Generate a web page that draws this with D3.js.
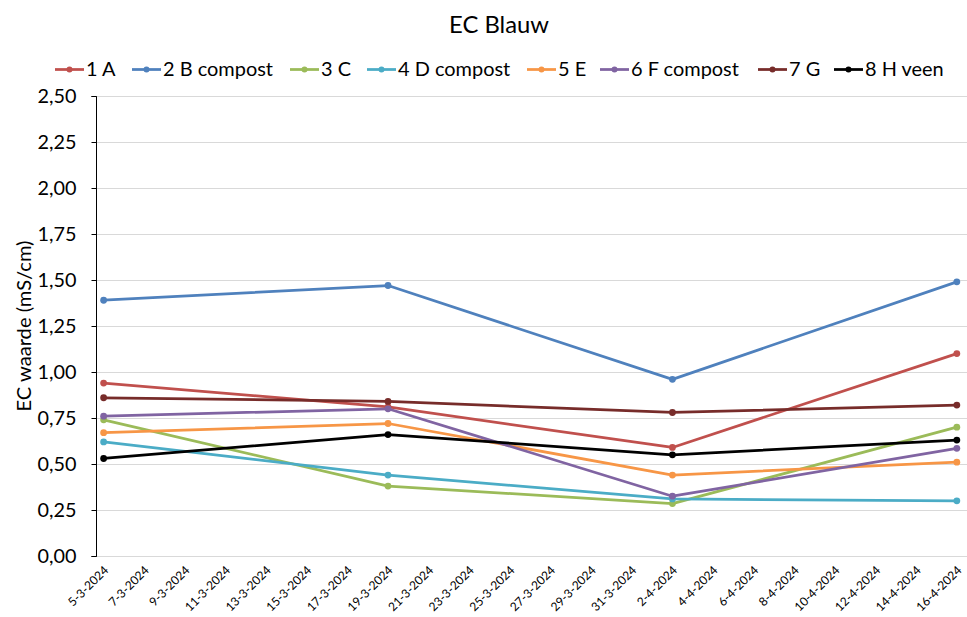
<!DOCTYPE html>
<html>
<head>
<meta charset="utf-8">
<script src="https://cdn.jsdelivr.net/npm/d3@7"></script>
<style>
  html, body { margin: 0; padding: 0; background: #fff; }
  svg { display: block; font-family: Lato, "Open Sans", sans-serif; }
</style>
</head>
<body>
<svg id="chart" width="967" height="617"></svg>
<script>
// Measurement dates (d-m-yyyy)
const dates = ["5-3-2024", "19-3-2024", "2-4-2024", "16-4-2024"];

// Series names and EC values (mS/cm)
const seriesNames = ["1 A", "2 B compost", "3 C", "4 D compost", "5 E", "6 F compost", "7 G", "8 H veen"];
const s1A = [0.94, 0.81, 0.59, 1.10];
const s2B = [1.39, 1.47, 0.96, 1.49];
const s3C = [0.74, 0.38, 0.285, 0.70];
const s4D = [0.62, 0.44, 0.31, 0.30];
const s5E = [0.67, 0.72, 0.44, 0.51];
const s6F = [0.76, 0.80, 0.325, 0.585];
const s7G = [0.86, 0.84, 0.78, 0.82];
const s8H = [0.53, 0.66, 0.55, 0.63];
const seriesColors = ["#C0504D", "#4F81BD", "#9BBB59", "#4BACC6", "#F79646", "#8064A2", "#772C2A", "#000000"];

// Axis ticks
const yTicks = [0, 0.25, 0.5, 0.75, 1.0, 1.25, 1.5, 1.75, 2.0, 2.25, 2.5];
const xTickStart = "5-3-2024";
const xTickEnd = "16-4-2024";
const xTickStepDays = 2;

const parseDate = d3.timeParse("%-d-%-m-%Y");
const fmtDate = d3.timeFormat("%-d-%-m-%Y");
const fmtY = v => d3.format(".2f")(v).replace(".", ",");

const allSeries = [s1A, s2B, s3C, s4D, s5E, s6F, s7G, s8H].map((vals, i) => ({
  name: seriesNames[i],
  color: seriesColors[i],
  points: vals.map((v, j) => ({ date: parseDate(dates[j]), value: v }))
}));

const svg = d3.select("#chart");

// Pick a font size so that a sample string takes up the wanted width
function fitSize(sample, width) {
  const t = svg.append("text").attr("font-size", 20).text(sample);
  const len = t.node().getComputedTextLength();
  t.remove();
  return 20 * width / len;
}
const titleSize = fitSize("EC Blauw", 100);
const legendSize = fitSize("2 B compost", 110);
const yTickSize = fitSize("1,75", 39);
const yTitleSize = fitSize("EC waarde (mS/cm)", 171);
const xTickSize = fitSize("5-3-2024", 51);

const plot = { left: 96, right: 967, top: 96, bottom: 556 };
const firstDay = parseDate(xTickStart);
const lastDay = parseDate(xTickEnd);

const x = d3.scaleTime()
  .domain([d3.timeHour.offset(firstDay, -9), d3.timeHour.offset(lastDay, 12)])
  .range([plot.left, plot.right]);
const y = d3.scaleLinear().domain([0, 2.5]).range([plot.bottom, plot.top]);

// Title
svg.append("text")
  .attr("x", 499).attr("y", 33)
  .attr("text-anchor", "middle")
  .attr("font-size", titleSize)
  .attr("fill", "#000")
  .text("EC Blauw");

// Horizontal gridlines
svg.append("g").selectAll("line").data(yTicks).join("line")
  .attr("x1", plot.left).attr("x2", plot.right)
  .attr("y1", d => Math.round(y(d)) + 0.5).attr("y2", d => Math.round(y(d)) + 0.5)
  .attr("stroke", "#D9D9D9").attr("stroke-width", 1.2);

// Y axis
const yAxis = d3.axisLeft(y).tickValues(yTicks).tickFormat(fmtY).tickSize(5).tickPadding(15);
const gy = svg.append("g").attr("transform", `translate(${plot.left + 0.5},0)`).call(yAxis);
gy.select(".domain").attr("stroke", "#000").attr("d", `M-5,${plot.top + 0.5}H0V${plot.bottom + 0.5}H-5`);
gy.selectAll(".tick line").attr("stroke", "#000");
gy.selectAll(".tick text").attr("font-size", yTickSize).attr("fill", "#000")
  .attr("font-family", "Lato, 'Open Sans', sans-serif");

// Y axis title
svg.append("text")
  .attr("transform", `translate(31,${(plot.top + plot.bottom) / 2}) rotate(-90)`)
  .attr("text-anchor", "middle")
  .attr("font-size", yTitleSize)
  .attr("fill", "#000")
  .text("EC waarde (mS/cm)");

// X axis tick labels every 2 days
const xTicks = d3.timeDay.range(firstDay, d3.timeDay.offset(lastDay, 1), xTickStepDays);
const xAxis = d3.axisBottom(x).tickValues(xTicks).tickFormat(fmtDate).tickSize(0).tickPadding(0);
const gx = svg.append("g").attr("transform", `translate(0,${plot.bottom})`).call(xAxis);
gx.select(".domain").remove();
gx.selectAll(".tick text")
  .attr("font-size", xTickSize).attr("fill", "#000")
  .attr("font-family", "Lato, 'Open Sans', sans-serif")
  .attr("text-anchor", "end")
  .attr("y", 0)
  .attr("dy", "0.35em")
  .attr("transform", "translate(2,12) rotate(-45)");

// Lines and markers
const line = d3.line().x(d => x(d.date)).y(d => y(d.value));
const gs = svg.append("g").selectAll("g").data(allSeries).join("g");
gs.append("path")
  .attr("d", d => line(d.points))
  .attr("fill", "none")
  .attr("stroke", d => d.color)
  .attr("stroke-width", 2.75)
  .attr("stroke-linejoin", "round");
gs.selectAll("circle").data(d => d.points.map(p => ({ ...p, color: d.color }))).join("circle")
  .attr("cx", d => x(d.date)).attr("cy", d => y(d.value))
  .attr("r", 3.4)
  .attr("fill", d => d.color);

// Legend
const legendX = [55, 132, 290, 367, 527, 600, 758, 834];
const legendY = 69.5;
const lg = svg.append("g").selectAll("g").data(allSeries).join("g")
  .attr("transform", (d, i) => `translate(${legendX[i]},${legendY})`);
lg.append("line").attr("x1", 0).attr("x2", 29).attr("y1", 0).attr("y2", 0)
  .attr("stroke", d => d.color).attr("stroke-width", 2.75);
lg.append("circle").attr("cx", 14.5).attr("cy", 0).attr("r", 3).attr("fill", d => d.color);
lg.append("text").attr("x", 31).attr("y", 0).attr("dy", "0.35em")
  .attr("font-size", legendSize).attr("fill", "#000")
  .text(d => d.name);
</script>
</body>
</html>
